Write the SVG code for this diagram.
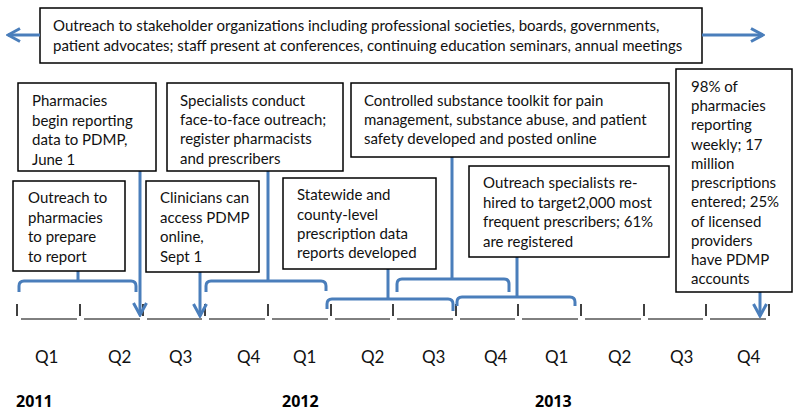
<svg xmlns="http://www.w3.org/2000/svg" width="800" height="414" viewBox="0 0 800 414">
<defs>
<style>
.box{fill:#fff;stroke:#000;stroke-width:1.5}
.t{font-family:Lato,"Open Sans",sans-serif;font-size:15px;fill:#111}
.q{font-family:Lato,"Open Sans",sans-serif;font-size:17px;fill:#111}
.yr{font-family:"Open Sans",Lato,sans-serif;font-size:16px;font-weight:bold;fill:#000}
.c{fill:none;stroke:#4a7ebb;stroke-width:3}
.tick{stroke:#000;stroke-width:1.5}
.ul{stroke:#000;stroke-width:1}
</style>
<marker id="ah" viewBox="0 0 16 16" refX="14" refY="8" markerWidth="16" markerHeight="16" markerUnits="userSpaceOnUse" orient="auto">
<path d="M2,1.5 L14,8 L2,14.5" fill="none" stroke="#4a7ebb" stroke-width="3"/>
</marker>
</defs>
<rect width="800" height="414" fill="#fff"/>

<g id="top-note">
<rect class="box" x="40" y="8" width="662" height="55"/>
<text class="t" x="53" y="31">Outreach to stakeholder organizations including professional societies, boards, governments,</text>
<text class="t" x="53" y="51">patient advocates; staff present at conferences, continuing education seminars, annual meetings</text>
</g>

<g id="timeline">
<line class="tick" x1="17" y1="304" x2="17" y2="316"/>
<line class="tick" x1="80" y1="304" x2="80" y2="316"/>
<line class="tick" x1="143" y1="304" x2="143" y2="316"/>
<line class="tick" x1="205" y1="304" x2="205" y2="316"/>
<line class="tick" x1="268" y1="304" x2="268" y2="316"/>
<line class="tick" x1="331" y1="304" x2="331" y2="316"/>
<line class="tick" x1="393" y1="304" x2="393" y2="316"/>
<line class="tick" x1="456" y1="304" x2="456" y2="316"/>
<line class="tick" x1="518" y1="304" x2="518" y2="316"/>
<line class="tick" x1="581" y1="304" x2="581" y2="316"/>
<line class="tick" x1="644" y1="304" x2="644" y2="316"/>
<line class="tick" x1="706" y1="304" x2="706" y2="316"/>
<line class="tick" x1="769" y1="304" x2="769" y2="316"/>
<line class="ul" x1="21" y1="319" x2="77" y2="319"/>
<line class="ul" x1="84" y1="319" x2="140" y2="319"/>
<line class="ul" x1="147" y1="319" x2="202" y2="319"/>
<line class="ul" x1="209" y1="319" x2="265" y2="319"/>
<line class="ul" x1="272" y1="319" x2="328" y2="319"/>
<line class="ul" x1="335" y1="319" x2="390" y2="319"/>
<line class="ul" x1="397" y1="319" x2="453" y2="319"/>
<line class="ul" x1="460" y1="319" x2="515" y2="319"/>
<line class="ul" x1="522" y1="319" x2="578" y2="319"/>
<line class="ul" x1="585" y1="319" x2="641" y2="319"/>
<line class="ul" x1="648" y1="319" x2="703" y2="319"/>
<line class="ul" x1="710" y1="319" x2="766" y2="319"/>
<text class="q" x="35" y="363">Q1</text>
<text class="q" x="108" y="363">Q2</text>
<text class="q" x="169" y="363">Q3</text>
<text class="q" x="237" y="363">Q4</text>
<text class="q" x="293" y="363">Q1</text>
<text class="q" x="361" y="363">Q2</text>
<text class="q" x="422" y="363">Q3</text>
<text class="q" x="484" y="363">Q4</text>
<text class="q" x="545" y="363">Q1</text>
<text class="q" x="608" y="363">Q2</text>
<text class="q" x="670" y="363">Q3</text>
<text class="q" x="737" y="363">Q4</text>
<text class="yr" x="16" y="407">2011</text>
<text class="yr" x="282" y="407">2012</text>
<text class="yr" x="535" y="407">2013</text>
</g>

<g id="connectors">
<line class="c" x1="40" y1="35" x2="8" y2="35" marker-end="url(#ah)"/>
<line class="c" x1="702" y1="35" x2="763" y2="35" marker-end="url(#ah)"/>
<path class="c" d="M78,271 V281 M19,292 V286 Q19,281 24,281 H131 Q136,281 136,286 V292"/>
<line class="c" x1="140" y1="171" x2="140" y2="315" marker-end="url(#ah)"/>
<line class="c" x1="200" y1="272" x2="200" y2="316" marker-end="url(#ah)"/>
<path class="c" d="M268,171 V281 M206,292 V286 Q206,281 211,281 H321 Q326,281 326,286 V291"/>
<path class="c" d="M452,157 V279 M397,292 V284 Q397,279 402,279 H504 Q509,279 509,284 V292"/>
<path class="c" d="M388,269 V299 M327,309 V304 Q327,299 332,299 H448 Q453,299 453,304 V311"/>
<path class="c" d="M517,257 V297 M457,306 V302 Q457,297 462,297 H570 Q575,297 575,302 V306"/>
<line class="c" x1="760" y1="292" x2="760" y2="316" marker-end="url(#ah)"/>
</g>

<g id="pharmacies-begin">
<rect class="box" x="18" y="83" width="138" height="88"/>
<text class="t" x="32" y="106">Pharmacies</text>
<text class="t" x="32" y="126">begin reporting</text>
<text class="t" x="32" y="145">data to PDMP,</text>
<text class="t" x="32" y="165">June 1</text>
</g>

<g id="outreach-pharmacies">
<rect class="box" x="13" y="181" width="112" height="90"/>
<text class="t" x="28" y="203">Outreach to</text>
<text class="t" x="28" y="223">pharmacies</text>
<text class="t" x="28" y="242">to prepare</text>
<text class="t" x="28" y="262">to report</text>
</g>

<g id="clinicians">
<rect class="box" x="146" y="181" width="113" height="91"/>
<text class="t" x="160" y="203">Clinicians can</text>
<text class="t" x="160" y="223">access PDMP</text>
<text class="t" x="160" y="242">online,</text>
<text class="t" x="160" y="262">Sept 1</text>
</g>

<g id="specialists">
<rect class="box" x="167" y="83" width="176" height="88"/>
<text class="t" x="180" y="106">Specialists conduct</text>
<text class="t" x="180" y="125">face-to-face outreach;</text>
<text class="t" x="180" y="144">register pharmacists</text>
<text class="t" x="180" y="164">and prescribers</text>
</g>

<g id="toolkit">
<rect class="box" x="351" y="83" width="318" height="74"/>
<text class="t" x="364" y="106">Controlled substance toolkit for pain</text>
<text class="t" x="364" y="125">management, substance abuse, and patient</text>
<text class="t" x="364" y="144">safety developed and posted online</text>
</g>

<g id="statewide">
<rect class="box" x="283" y="178" width="153" height="91"/>
<text class="t" x="297" y="200">Statewide and</text>
<text class="t" x="297" y="220">county-level</text>
<text class="t" x="297" y="239">prescription data</text>
<text class="t" x="297" y="258">reports developed</text>
</g>

<g id="rehired">
<rect class="box" x="469" y="166" width="200" height="91"/>
<text class="t" x="483" y="188">Outreach specialists re-</text>
<text class="t" x="483" y="208">hired to target2,000 most</text>
<text class="t" x="483" y="227">frequent prescribers; 61%</text>
<text class="t" x="483" y="247">are registered</text>
</g>

<g id="pharmacies-98">
<rect class="box" x="676" y="69" width="116" height="223"/>
<text class="t" x="691" y="92">98% of</text>
<text class="t" x="691" y="111">pharmacies</text>
<text class="t" x="691" y="130">reporting</text>
<text class="t" x="691" y="150">weekly; 17</text>
<text class="t" x="691" y="169">million</text>
<text class="t" x="691" y="188">prescriptions</text>
<text class="t" x="691" y="207">entered; 25%</text>
<text class="t" x="691" y="227">of licensed</text>
<text class="t" x="691" y="246">providers</text>
<text class="t" x="691" y="265">have PDMP</text>
<text class="t" x="691" y="284">accounts</text>
</g>
</svg>
